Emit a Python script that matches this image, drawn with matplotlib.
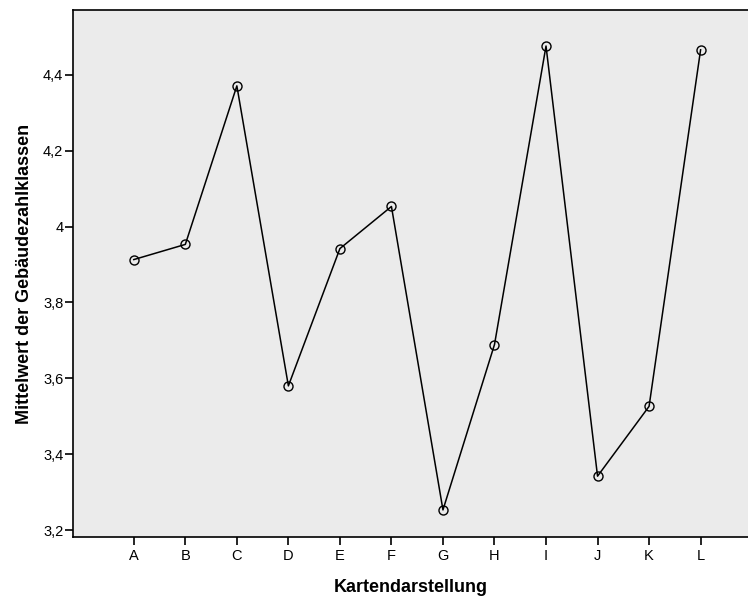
#!/usr/bin/env python3
import matplotlib
matplotlib.use('Agg')
import matplotlib.pyplot as plt
from matplotlib.ticker import FuncFormatter

# Mean values per map type
categories = ['A', 'B', 'C', 'D', 'E', 'F', 'G', 'H', 'I', 'J', 'K', 'L']
means = [3.913, 3.953, 4.371, 3.580, 3.942, 4.053, 3.253, 3.689, 4.476, 3.342, 3.526, 4.466]
y_ticks = [3.2, 3.4, 3.6, 3.8, 4.0, 4.2, 4.4]

plt.rcParams['font.family'] = ['Liberation Sans', 'DejaVu Sans']

fig = plt.figure(figsize=(7.48, 5.98), dpi=100)
ax = fig.add_axes([73 / 748, 61 / 598, 675 / 748, 527 / 598])
ax.set_facecolor('#ebebeb')

x = list(range(len(categories)))
ax.plot(x, means, color='black', linewidth=1.1, marker='o', markersize=6.5,
        markerfacecolor='none', markeredgecolor='black', markeredgewidth=1.0)

ax.set_xlim(-1.18, 11.92)
ax.set_ylim(3.1816, 4.571)
ax.set_xticks(x)
ax.set_xticklabels(categories)
ax.set_yticks(y_ticks)
ax.yaxis.set_major_formatter(FuncFormatter(lambda v, p: ('%g' % v).replace('.', ',')))

ax.tick_params(direction='out', length=6, width=1.2, labelsize=10.5)
ax.tick_params(axis='y', pad=1)
ax.tick_params(axis='x', pad=3)
for side in ['top', 'left', 'bottom']:
    ax.spines[side].set_linewidth(1.2)
ax.spines['right'].set_visible(False)

ax.set_xlabel('Kartendarstellung', fontsize=13, fontweight='bold', labelpad=11)
ax.set_ylabel('Mittelwert der Gebäudezahlklassen', fontsize=13, fontweight='bold', labelpad=7)

fig.savefig('out.png', dpi=100)
